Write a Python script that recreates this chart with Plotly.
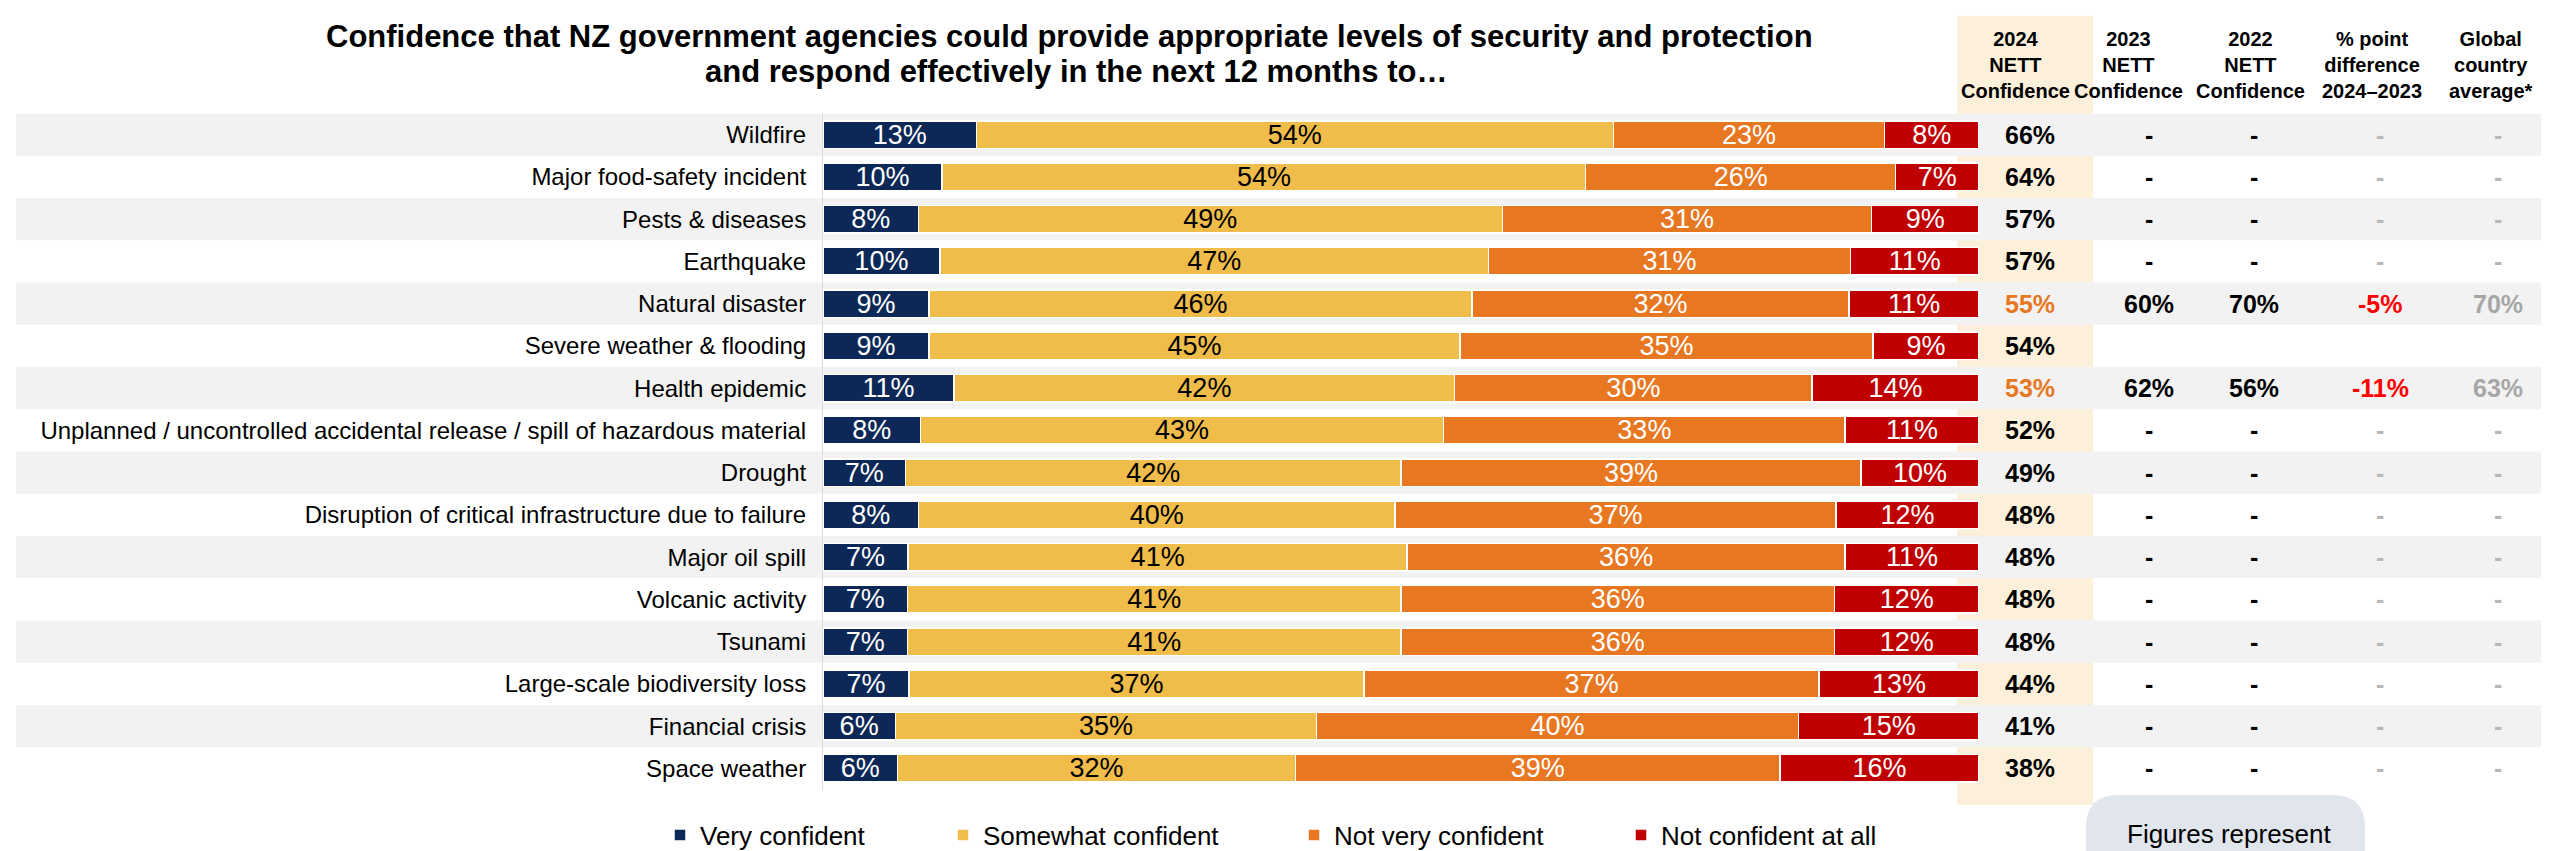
import plotly.graph_objects as go

W, H = 2549, 851
FONT = "Liberation Sans, Arial, sans-serif"

categories = [
    "Wildfire",
    "Major food-safety incident",
    "Pests & diseases",
    "Earthquake",
    "Natural disaster",
    "Severe weather & flooding",
    "Health epidemic",
    "Unplanned / uncontrolled accidental release / spill of hazardous material",
    "Drought",
    "Disruption of critical infrastructure due to failure",
    "Major oil spill",
    "Volcanic activity",
    "Tsunami",
    "Large-scale biodiversity loss",
    "Financial crisis",
    "Space weather",
]

very_confident = [13, 10, 8, 10, 9, 9, 11, 8, 7, 8, 7, 7, 7, 7, 6, 6]
somewhat_confident = [54, 54, 49, 47, 46, 45, 42, 43, 42, 40, 41, 41, 41, 37, 35, 32]
not_very_confident = [23, 26, 31, 31, 32, 35, 30, 33, 39, 37, 36, 36, 36, 37, 40, 39]
not_confident_at_all = [8, 7, 9, 11, 11, 9, 14, 11, 10, 12, 11, 12, 12, 13, 15, 16]

nett_2024 = ["66%", "64%", "57%", "57%", "55%", "54%", "53%", "52%", "49%", "48%", "48%", "48%", "48%", "44%", "41%", "38%"]
nett_2024_highlight = [False, False, False, False, True, False, True, False, False, False, False, False, False, False, False, False]
nett_2023 = ["-", "-", "-", "-", "60%", "", "62%", "-", "-", "-", "-", "-", "-", "-", "-", "-"]
nett_2022 = ["-", "-", "-", "-", "70%", "", "56%", "-", "-", "-", "-", "-", "-", "-", "-", "-"]
diff_2024_2023 = ["-", "-", "-", "-", "-5%", "", "-11%", "-", "-", "-", "-", "-", "-", "-", "-", "-"]
global_avg = ["-", "-", "-", "-", "70%", "", "63%", "-", "-", "-", "-", "-", "-", "-", "-", "-"]

series_names = ["Very confident", "Somewhat confident", "Not very confident", "Not confident at all"]
series_values = [very_confident, somewhat_confident, not_very_confident, not_confident_at_all]
series_colors = ["#0b2856", "#f0bd4b", "#e87722", "#c00000"]
label_colors = ["#ffffff", "#000000", "#ffffff", "#ffffff"]

column_headers = ["2024<br>NETT<br>Confidence", "2023<br>NETT<br>Confidence", "2022<br>NETT<br>Confidence",
                  "% point<br>difference<br>2024\u20132023", "Global<br>country<br>average*"]

title_lines = ["Confidence that NZ government agencies could provide appropriate levels of security and protection",
               "and respond effectively in the next 12 months to\u2026"]


def px(x):
    return x / W


def py(y):
    return 1 - y / H


totals = [sum(v[i] for v in series_values) for i in range(len(categories))]
legend_ids = ["legend", "legend2", "legend3", "legend4"]

fig = go.Figure()
for name, vals, col, lcol, lg in zip(series_names, series_values, series_colors, label_colors, legend_ids):
    fig.add_trace(go.Bar(
        y=categories,
        x=[v / t * 100 for v, t in zip(vals, totals)],
        orientation="h",
        name=name,
        legend=lg,
        marker=dict(color=col, line=dict(color="#ffffff", width=1.5)),
        text=[f"{v}%" for v in vals],
        textposition="inside",
        insidetextanchor="middle",
        textangle=0,
        constraintext="none",
        textfont=dict(family=FONT, size=27, color=lcol),
        hovertemplate="%{y}: %{text}<extra>" + name + "</extra>",
    ))

shapes = []
shapes.append(dict(type="rect", xref="paper", yref="paper",
                   x0=px(1949), x1=px(2085), y0=py(812), y1=py(8),
                   fillcolor="#fcf0da", line=dict(width=0), layer="below"))
for i in range(0, len(categories), 2):
    shapes.append(dict(type="rect", xref="paper", yref="y",
                       x0=px(8), x1=1, y0=i - 0.5, y1=i + 0.5,
                       fillcolor="#f2f2f2", line=dict(width=0), layer="below"))
bx0, bx1, by0, by1, r = 2078, 2357, 802, 880, 33
path = (f"M {px(bx0)},{py(by1)} L {px(bx0)},{py(by0 + r)} "
        f"Q {px(bx0)},{py(by0)} {px(bx0 + r)},{py(by0)} "
        f"L {px(bx1 - r)},{py(by0)} "
        f"Q {px(bx1)},{py(by0)} {px(bx1)},{py(by0 + r)} "
        f"L {px(bx1)},{py(by1)} Z")
shapes.append(dict(type="path", xref="paper", yref="paper", path=path,
                   fillcolor="#e1e5ec", line=dict(width=0), layer="below"))

annotations = []
for line, ly, lx in zip(title_lines, [29, 65], [1061, 1068]):
    annotations.append(dict(text=f"<b>{line}</b>", xref="paper", yref="paper", x=px(lx), y=py(ly),
                            xanchor="center", yanchor="middle", showarrow=False,
                            font=dict(family=FONT, size=31, color="#000000")))

header_x = [2007, 2120, 2242, 2364, 2483]
for hx, ht in zip(header_x, column_headers):
    annotations.append(dict(text="<b>" + ht.replace("<br>", "</b><br><b>") + "</b>",
                            xref="paper", yref="paper", x=px(hx), y=py(58),
                            xanchor="center", yanchor="middle", showarrow=False,
                            font=dict(family=FONT, size=20, color="#000000"), align="center"))

col_x = [2022, 2141, 2246, 2372, 2490]
columns = [nett_2024, nett_2023, nett_2022, diff_2024_2023, global_avg]
for ci, (cx, colvals) in enumerate(zip(col_x, columns)):
    for ri, (cat, val) in enumerate(zip(categories, colvals)):
        if val == "":
            continue
        if ci == 0:
            color = "#e87722" if nett_2024_highlight[ri] else "#000000"
        elif ci in (1, 2):
            color = "#000000"
        elif ci == 3:
            color = "#ff0000" if val != "-" else "#b8b8b8"
        else:
            color = "#a6a6a6" if val != "-" else "#b8b8b8"
        annotations.append(dict(text=f"<b>{val}</b>", xref="paper", yref="y", x=px(cx), y=cat,
                                xanchor="center", yanchor="middle", showarrow=False,
                                font=dict(family=FONT, size=25, color=color)))

annotations.append(dict(text="Figures represent", xref="paper", yref="paper", x=px(2221), y=py(842),
                        xanchor="center", yanchor="middle", showarrow=False,
                        font=dict(family=FONT, size=26, color="#000000")))

legend_marker_x = [679, 962, 1313, 1640]
legend_common = dict(orientation="h", xanchor="left", y=py(843), yanchor="middle",
                     font=dict(family=FONT, size=26, color="#000000"),
                     bgcolor="rgba(0,0,0,0)", itemclick=False, itemdoubleclick=False)
legend_layout = {}
for lg, mx in zip(legend_ids, legend_marker_x):
    legend_layout[lg] = dict(legend_common, x=px(mx - 27))

fig.update_layout(
    width=W, height=H, autosize=False,
    margin=dict(l=0, r=0, t=0, b=0, pad=0),
    paper_bgcolor="#ffffff", plot_bgcolor="rgba(0,0,0,0)",
    barmode="stack", bargap=0.35,
    font=dict(family=FONT, size=24, color="#000000"),
    xaxis=dict(domain=[px(815), px(1971)], range=[0, 100], visible=False, fixedrange=True),
    yaxis=dict(domain=[py(796.5), py(107.5)], type="category", categoryorder="array",
               categoryarray=categories, range=[len(categories) - 0.5, -0.5],
               showline=True, linecolor="#d9d9d9", linewidth=1, showgrid=False, zeroline=False,
               ticks="", ticklabelstandoff=11, tickfont=dict(family=FONT, size=24, color="#000000"),
               fixedrange=True),
    shapes=shapes,
    annotations=annotations,
    showlegend=True,
    **legend_layout,
)

fig.write_html("out.html")
